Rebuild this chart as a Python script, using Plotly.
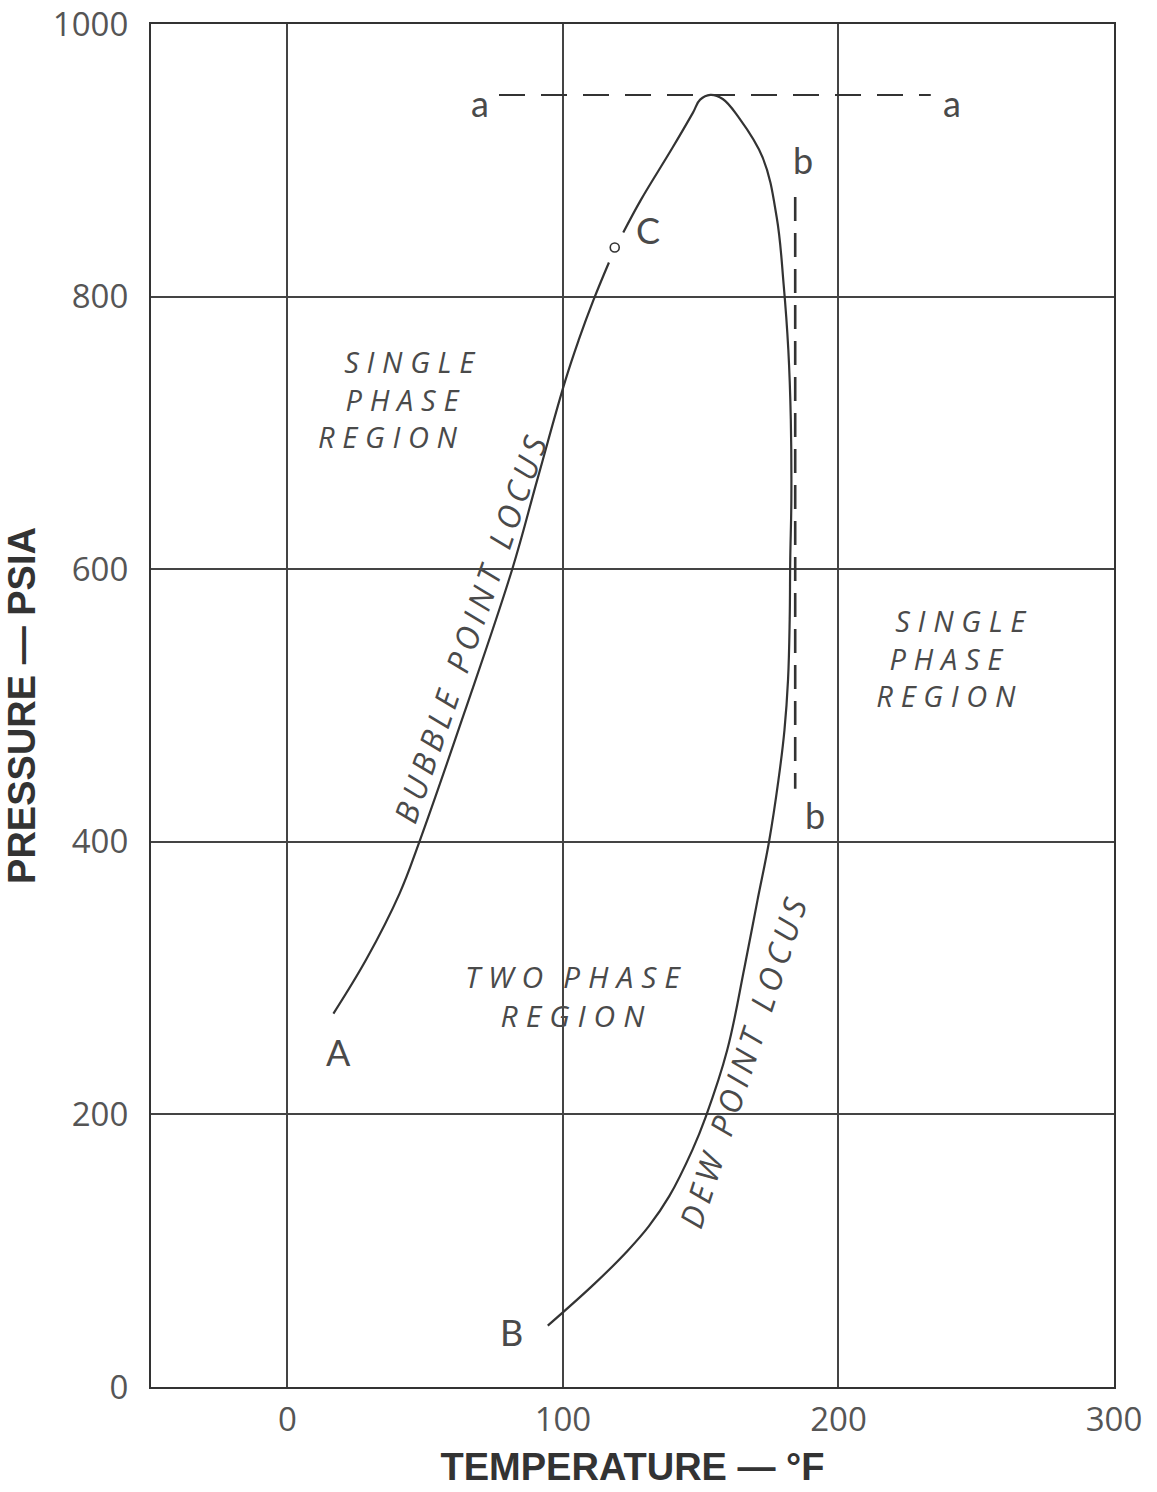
import plotly.graph_objects as go

# ---- data ----
bubble_T = [16.7, 28.7, 40.7, 47.9, 64.1, 81.6, 90.6, 100.8, 105.7, 111.0, 116.7]
bubble_P = [274, 314, 362, 400, 494, 600, 665, 738, 768, 797, 825]

dew_T = [121.9, 128.3, 139.7, 147.2, 149.8, 153.5, 158.0, 163.6, 172.5, 177.6, 180.1, 181.8,
         182.7, 182.9, 182.5, 182.3, 181.7, 180.4, 178.2, 174.8, 170.6, 165.9, 159.6, 151.8,
         147.0, 138.6, 131.2, 123.5, 111.6, 94.5]
dew_P = [847, 871, 909, 935, 944.5, 948, 945, 932, 902, 858, 809, 761,
         710, 651, 607, 563, 519, 482, 445, 400, 357, 308, 247, 198,
         174, 140, 118, 100, 76, 45]

critical_T = [118.8]
critical_P = [836]

aa_T = [76.8, 233.5]
aa_P = [948, 948]
bb_T = [184.3, 184.3]
bb_P = [873, 439]

x_ticks = [0, 100, 200, 300]
y_ticks = [0, 200, 400, 600, 800, 1000]

INK = "#333333"
LIGHT = "#4a4a4a"
TS = "\u2009"                 # thin space
LS = "\u2009\u200a"           # letter gap for the wide lettering of the original
WS = "\u2002\u2009"           # word gap


def spaced(s, gap=LS):
    return WS.join(gap.join(w) for w in s.split(" "))


def line(s, lead=0, trail=0):
    return TS * lead + spaced(s) + TS * trail


fig = go.Figure()
for xs, ys in [(bubble_T, bubble_P), (dew_T, dew_P)]:
    fig.add_trace(go.Scatter(x=xs, y=ys, mode="lines",
                             line=dict(color=INK, width=2.2, shape="spline", smoothing=1.1),
                             showlegend=False, hoverinfo="skip"))
fig.add_trace(go.Scatter(x=aa_T, y=aa_P, mode="lines",
                         line=dict(color=INK, width=2, dash="26px,16px"),
                         showlegend=False, hoverinfo="skip"))
fig.add_trace(go.Scatter(x=bb_T, y=bb_P, mode="lines",
                         line=dict(color=INK, width=2.6, dash="24px,12px"),
                         showlegend=False, hoverinfo="skip"))
fig.add_trace(go.Scatter(x=critical_T, y=critical_P, mode="markers",
                         marker=dict(symbol="circle-open", size=9, color=INK, line=dict(width=1.6, color=INK)),
                         showlegend=False, hoverinfo="skip"))

LFONT = dict(family="Lato, Open Sans, sans-serif", size=36, color=LIGHT)
letters = [("A", 18.4, 246), ("B", 81.5, 40), ("C", 130.9, 849),
           ("a", 69.9, 942), ("a", 241.2, 942), ("b", 187.1, 900), ("b", 191.5, 420)]
for t, x, y in letters:
    fig.add_annotation(x=x, y=y, text=t, showarrow=False, font=LFONT)

RFONT = dict(family="Open Sans, sans-serif", size=29, color=LIGHT, style="italic")
fig.add_annotation(x=40.6, y=725, showarrow=False, font=RFONT, align="center",
                   text="<br>".join([line("SINGLE", lead=4), line("PHASE", lead=1),
                                     line("REGION", trail=5)]))
fig.add_annotation(x=241.2, y=535, showarrow=False, font=RFONT, align="center",
                   text="<br>".join([line("SINGLE", lead=4), line("PHASE", trail=2),
                                     line("REGION", trail=2)]))
fig.add_annotation(x=103.8, y=287, showarrow=False, font=dict(RFONT, size=30), align="center",
                   text="<br>".join([line("TWO PHASE"), line("REGION")]))

LOCFONT = dict(RFONT, size=32)
fig.add_annotation(x=66.0, y=556, text=spaced("BUBBLE POINT LOCUS", TS), showarrow=False,
                   textangle=-71, font=LOCFONT)
fig.add_annotation(x=165.2, y=238, text=spaced("DEW POINT LOCUS", TS), showarrow=False,
                   textangle=-72, font=LOCFONT)

TICKFONT = dict(family="Open Sans, sans-serif", size=33, color="#555555")
TITLEFONT = dict(family="Liberation Sans, Arial, sans-serif", size=38, color=INK, weight="bold")

fig.update_xaxes(range=[-49.5, 300], tickvals=x_ticks, ticktext=[str(v) for v in x_ticks],
                 showgrid=True, gridcolor="#444444", gridwidth=1.5, zeroline=False,
                 showline=True, mirror=True, linecolor=INK, linewidth=2.2, automargin=False,
                 ticks="", tickfont=TICKFONT, ticklabelstandoff=2,
                 title=dict(text="TEMPERATURE — °F", font=TITLEFONT, standoff=14))
fig.update_yaxes(range=[0, 1000], tickvals=y_ticks, ticktext=[str(v) for v in y_ticks],
                 showgrid=True, gridcolor="#444444", gridwidth=1.5, zeroline=False,
                 showline=True, mirror=True, linecolor=INK, linewidth=2.2, automargin=False,
                 ticks="", tickfont=TICKFONT, ticklabelstandoff=14,
                 title=dict(text="PRESSURE — PSIA", font=TITLEFONT, standoff=6))

fig.update_layout(width=1157, height=1492, plot_bgcolor="white", paper_bgcolor="white",
                  margin=dict(l=151, r=43, t=24, b=105), showlegend=False)

fig.write_html("out.html")
